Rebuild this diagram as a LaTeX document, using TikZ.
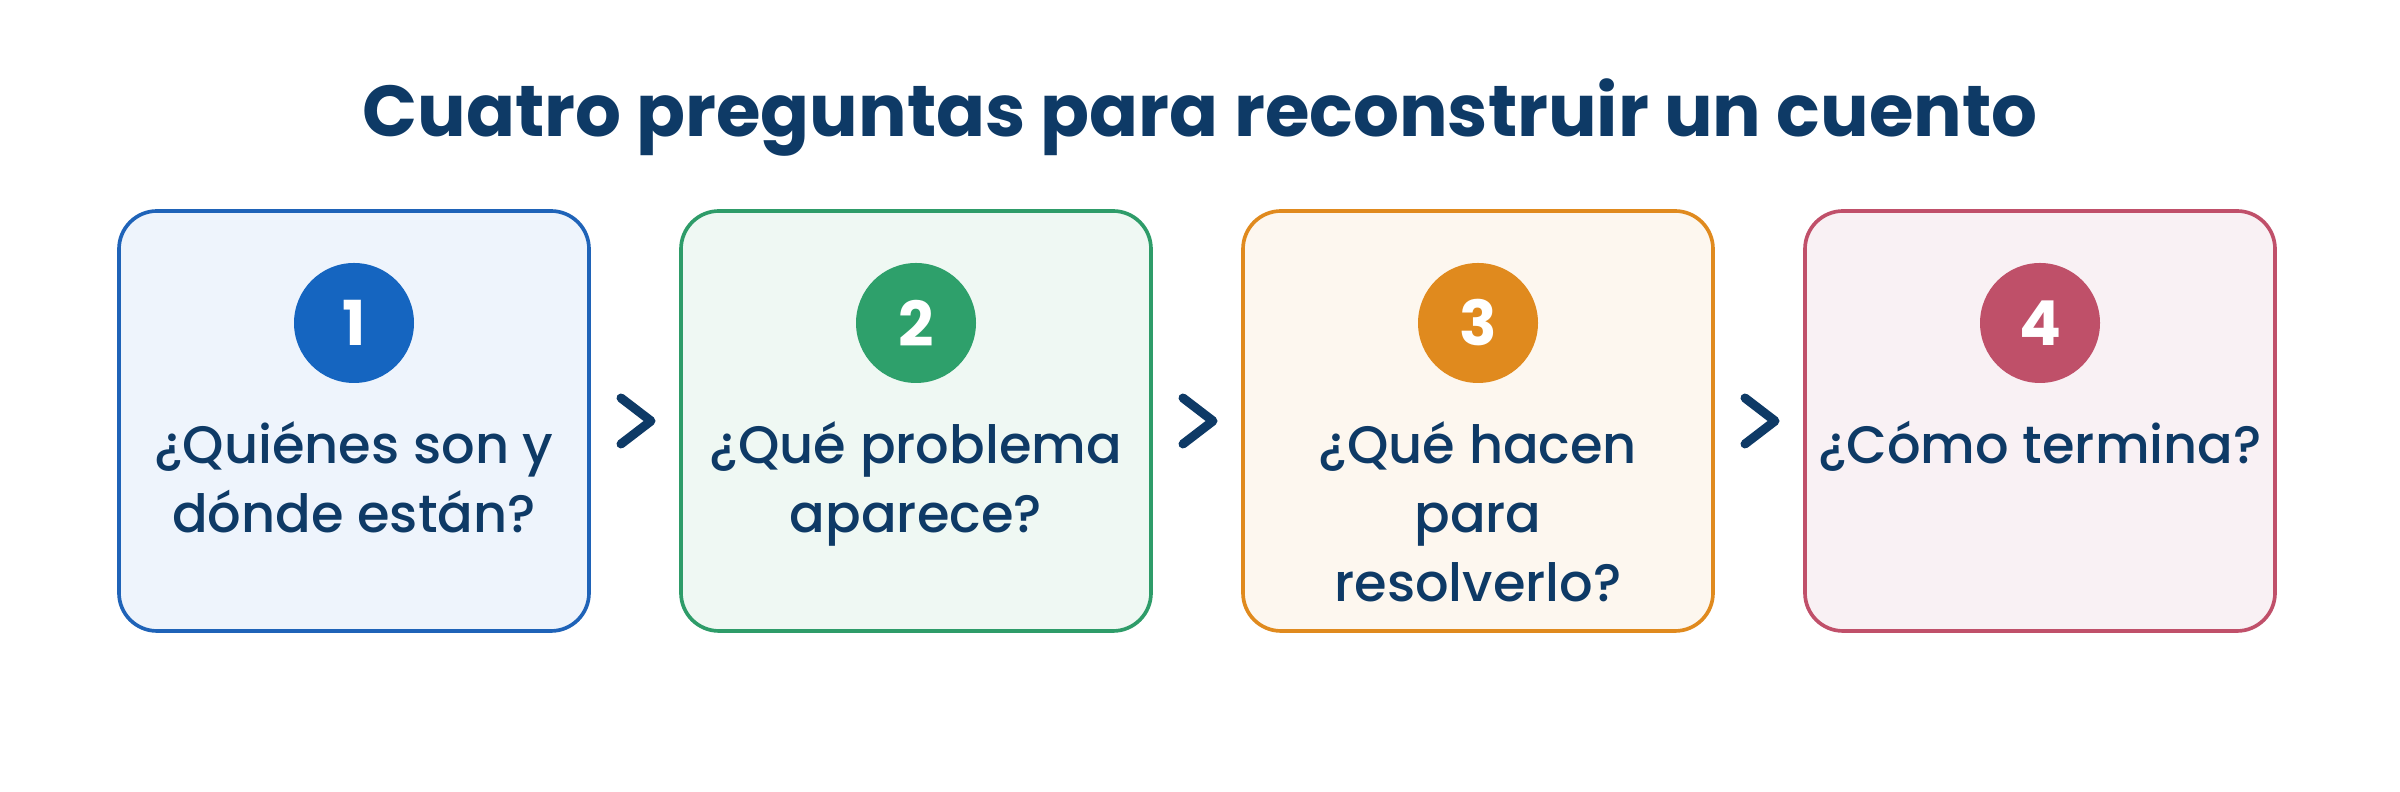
\documentclass[tikz,border=0pt]{standalone}
\usepackage{fontspec}
\setmainfont{Poppins}[UprightFont=* Medium]
\newfontfamily\popbold{Poppins}[UprightFont=* Bold]
\usetikzlibrary{calc}
\definecolor{navy}{HTML}{0E3A66}
\definecolor{bOne}{HTML}{1F63B8}\definecolor{fOne}{HTML}{EEF4FC}\definecolor{cOne}{HTML}{1565C0}
\definecolor{bTwo}{HTML}{2E9C69}\definecolor{fTwo}{HTML}{EFF8F3}\definecolor{cTwo}{HTML}{2EA06B}
\definecolor{bThr}{HTML}{E08A1E}\definecolor{fThr}{HTML}{FDF7EF}\definecolor{cThr}{HTML}{E08A1E}
\definecolor{bFou}{HTML}{C0506A}\definecolor{fFou}{HTML}{F9F1F4}\definecolor{cFou}{HTML}{BF5069}
\tikzset{
  stepbox/.style={draw=#1, line width=1.1pt, rounded corners=11.4pt, minimum width=141pt, minimum height=126pt, inner sep=0pt},
  numdot/.style={circle, fill=#1, minimum size=36pt, inner sep=0pt, text=white, font=\popbold\fontsize{18.6pt}{20pt}\selectfont},
  question/.style={anchor=north, inner sep=0pt, align=center, text=navy, font=\fontsize{15.8pt}{20.7pt}\selectfont},
  chev/.style={draw=navy, line width=2.7pt, line cap=round, line join=round},
}
\newcommand{\qs}{\rule{0pt}{15.8pt}}
\begin{document}
\begin{tikzpicture}[x=0.3pt,y=-0.3pt]
\useasboundingbox[fill=white] (0,0) rectangle (2400,792);
\node[anchor=base, inner sep=0pt, text=navy, font=\popbold\fontsize{21.65pt}{26pt}\selectfont] (title) at (1200,137) {Cuatro preguntas para reconstruir un cuento};

\node[stepbox=bOne, fill=fOne] (b1) at (354,421) {};
\node[stepbox=bTwo, fill=fTwo] (b2) at (916,421) {};
\node[stepbox=bThr, fill=fThr] (b3) at (1478,421) {};
\node[stepbox=bFou, fill=fFou] (b4) at (2040,421) {};

\node[numdot=cOne] (n1) at (354,323) {1};
\node[numdot=cTwo] (n2) at (916,323) {2};
\node[numdot=cThr] (n3) at (1478,323) {3};
\node[numdot=cFou] (n4) at (2040,323) {4};

\node[question] (q1) at (354,410) {\qs¿Quiénes son y\\dónde están?};
\node[question] (q2) at (916,410) {\qs¿Qué problema\\aparece?};
\node[question] (q3) at (1478,410) {\qs¿Qué hacen\\para\\resolverlo?};
\node[question] (q4) at (2040,410) {\qs¿Cómo termina?};

\foreach \a/\b in {b1/b2,b2/b3,b3/b4}{
  \coordinate (m\a) at ($(\a.east)!0.5!(\b.west)$);
  \draw[chev] ($(m\a)+(-14,-23)$) -- ($(m\a)+(16,0)$) -- ($(m\a)+(-14,23)$);
}
\end{tikzpicture}
\end{document}
